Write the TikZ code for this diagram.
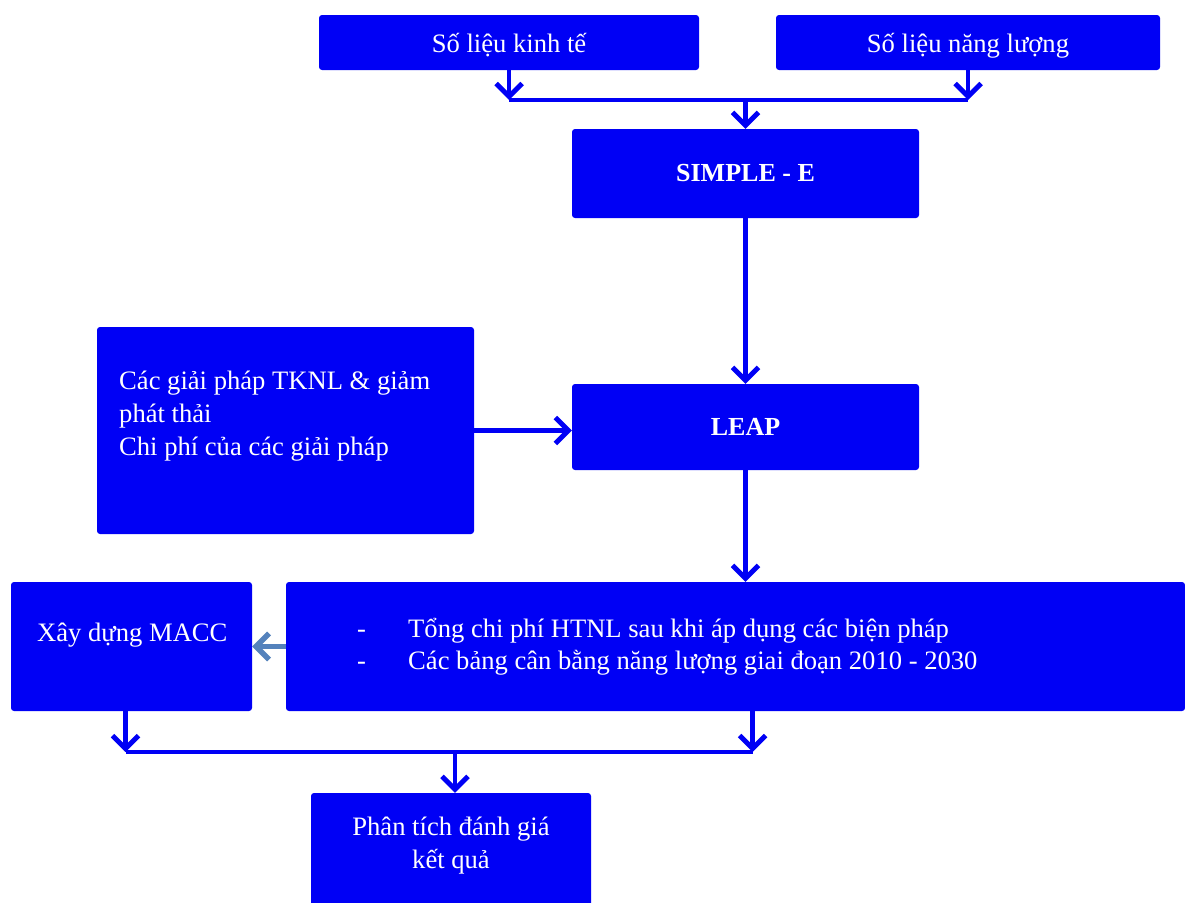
\documentclass[tikz,border=0pt]{standalone}
\usepackage{fontspec}
\setmainfont{Liberation Serif}
\usetikzlibrary{arrows.meta}

\definecolor{boxblue}{RGB}{0,0,245}
\definecolor{steelarrow}{RGB}{84,130,188}

\tikzset{
  box/.style={rectangle,rounded corners=3pt,fill=boxblue,text=white,inner sep=0pt,
    font=\fontsize{26.6}{33}\selectfont},
  boxtxt/.style={text=white,inner sep=0pt,font=\fontsize{26.6}{33}\selectfont},
  link/.style={draw=boxblue,line width=4.5pt},
  flow/.style={link,-{Straight Barb[length=13pt,width=26pt,line width=0pt 1.1]}},
}

\begin{document}
\begin{tikzpicture}[x=1pt,y=-1pt]
  \useasboundingbox (0,0) rectangle (1185,902);
  \clip (0,0) rectangle (1185,902);

  % input data
  \node[box,minimum width=380,minimum height=55] (kinhte) at (509,42.5) {\raisebox{-10pt}[0pt][0pt]{Số liệu kinh tế}};
  \node[box,minimum width=384,minimum height=55] (nangluong) at (968,42.5) {\raisebox{-10pt}[0pt][0pt]{Số liệu năng lượng}};
  \coordinate (topjoin) at (745.5,100);

  % models
  \node[box,minimum width=347,minimum height=89,font=\fontsize{26}{33}\selectfont\bfseries] (simple) at (745.5,173.5) {SIMPLE - E};
  \node[box,minimum width=347,minimum height=86,font=\fontsize{26}{33}\selectfont\bfseries] (leap) at (745.5,427) {LEAP};

  \node[box,minimum width=377,minimum height=207] (giaiphap) at (285.5,430.5) {};
  \node[boxtxt,anchor=north west] (giaiphaptxt) at (119,366)
    {\begin{tabular}{@{}l@{}}
      Các giải pháp TKNL \& giảm\\
      phát thải\\
      Chi phí của các giải pháp
    \end{tabular}};

  % results
  \node[box,minimum width=899,minimum height=129] (htnl) at (735.5,646.5) {};
  \node[boxtxt,anchor=north west,font=\fontsize{26.6}{32}\selectfont] (htnltxt) at (357,615)
    {\begin{tabular}{@{}p{51pt}@{}l@{}}
      - & Tổng chi phí HTNL sau khi áp dụng các biện pháp\\
      - & Các bảng cân bằng năng lượng giai đoạn 2010 - 2030
    \end{tabular}};

  \node[box,minimum width=241,minimum height=129] (macc) at (131.5,646.5) {};
  \node[boxtxt,anchor=base west] (macctxt) at (37,641) {Xây dựng MACC};
  \coordinate (botjoin) at (455,752);

  \node[box,minimum width=280,minimum height=116] (phantich) at (451,851) {};
  \node[boxtxt,anchor=north] (phantichtxt) at (451,812)
    {\begin{tabular}{@{}c@{}}
      Phân tích đánh giá\\
      kết quả
    \end{tabular}};

  % connectors
  \draw[flow] (kinhte.south) -- (kinhte.south |- topjoin);
  \draw[flow] (nangluong.south) -- (nangluong.south |- topjoin);
  \draw[link] (kinhte.south |- topjoin) -- (nangluong.south |- topjoin);
  \draw[flow] (topjoin) -- (simple.north);
  \draw[flow] (simple.south) -- (leap.north);
  \draw[flow] (giaiphap.east) -- (giaiphap.east -| leap.west);
  \draw[flow] (leap.south) -- (leap.south |- htnl.north);
  \draw[flow,draw=steelarrow,line width=5pt] (htnl.west |- macc.east) -- (macc.east);
  \draw[flow] ([xshift=-6]macc.south) -- ([xshift=-6]macc.south |- botjoin);
  \draw[flow] ([xshift=7]leap.south |- htnl.south) -- ([xshift=7]leap.south |- botjoin);
  \draw[link] ([xshift=-6]macc.south |- botjoin) -- ([xshift=7]leap.south |- botjoin);
  \draw[flow] (botjoin) -- (botjoin |- phantich.north);
\end{tikzpicture}
\end{document}
